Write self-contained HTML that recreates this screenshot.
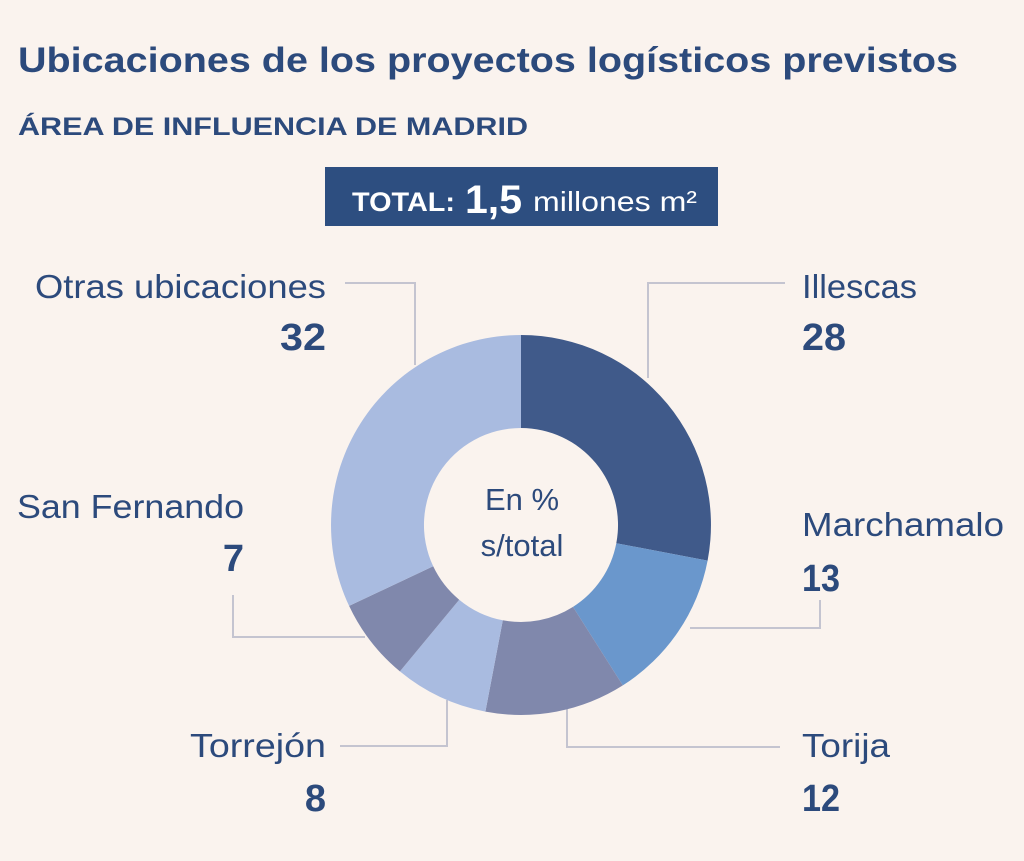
<!DOCTYPE html>
<html><head><meta charset="utf-8"><style>
body{margin:0;background:#faf3ee;}
svg{display:block;font-family:"Liberation Sans",sans-serif;}
</style></head><body>
<svg width="1024" height="861" viewBox="0 0 1024 861">
<rect width="1024" height="861" fill="#faf3ee"/>
<text x="18" y="72" font-size="35" font-weight="bold" fill="#2c4a7c" textLength="940" lengthAdjust="spacingAndGlyphs">Ubicaciones de los proyectos logísticos previstos</text>
<text x="18" y="135" font-size="25" font-weight="bold" fill="#2c4a7c" textLength="510" lengthAdjust="spacingAndGlyphs">ÁREA DE INFLUENCIA DE MADRID</text>
<rect x="325" y="167" width="393" height="59" fill="#2d4e80"/>
<text x="352" y="211" font-size="27" font-weight="bold" fill="#fff" textLength="103" lengthAdjust="spacingAndGlyphs">TOTAL:</text>
<text x="465" y="213" font-size="40" font-weight="bold" fill="#fff" textLength="57" lengthAdjust="spacingAndGlyphs">1,5</text>
<text x="533" y="211" font-size="28" fill="#fff" textLength="164" lengthAdjust="spacingAndGlyphs">millones m²</text>
<g stroke="#c4c4d0" stroke-width="2" fill="none">
<polyline points="345,283 415,283 415,365"/>
<polyline points="648,378 648,283 785,283"/>
<polyline points="690,628 820,628 820,600"/>
<polyline points="567,700 567,747 780,747"/>
<polyline points="447,700 447,746 340,746"/>
<polyline points="233,595 233,637 365,637"/>
</g>
<path d="M521,335 A190,190 0 0 1 707.6,560.6 L616.3,543.2 A97,97 0 0 0 521,428Z" fill="#405a8a"/>
<path d="M707.6,560.6 A190,190 0 0 1 622.8,685.4 L573,606.9 A97,97 0 0 0 616.3,543.2Z" fill="#6a97cc"/>
<path d="M622.8,685.4 A190,190 0 0 1 485.4,711.6 L502.8,620.3 A97,97 0 0 0 573,606.9Z" fill="#8088ac"/>
<path d="M485.4,711.6 A190,190 0 0 1 399.9,671.4 L459.2,599.7 A97,97 0 0 0 502.8,620.3Z" fill="#a9bbe0"/>
<path d="M399.9,671.4 A190,190 0 0 1 349.1,605.9 L433.2,566.3 A97,97 0 0 0 459.2,599.7Z" fill="#8088ac"/>
<path d="M349.1,605.9 A190,190 0 0 1 521,335 L521,428 A97,97 0 0 0 433.2,566.3Z" fill="#a9bbe0"/>
<g font-size="31" fill="#2c4a7c" text-anchor="middle">
<text x="522" y="510">En %</text>
<text x="522" y="556">s/total</text>
</g>
<g font-size="33" fill="#2c4a7c" lengthAdjust="spacingAndGlyphs">
<text x="35" y="298" textLength="291" lengthAdjust="spacingAndGlyphs">Otras ubicaciones</text>
<text x="280" y="350" font-weight="bold" font-size="38" textLength="46" lengthAdjust="spacingAndGlyphs">32</text>
<text x="802" y="298" textLength="115" lengthAdjust="spacingAndGlyphs">Illescas</text>
<text x="802" y="350" font-weight="bold" font-size="38" textLength="44" lengthAdjust="spacingAndGlyphs">28</text>
<text x="802" y="536" textLength="202" lengthAdjust="spacingAndGlyphs">Marchamalo</text>
<text x="802" y="591" font-weight="bold" font-size="38" textLength="38" lengthAdjust="spacingAndGlyphs">13</text>
<text x="802" y="757" textLength="88" lengthAdjust="spacingAndGlyphs">Torija</text>
<text x="802" y="811" font-weight="bold" font-size="38" textLength="38" lengthAdjust="spacingAndGlyphs">12</text>
<text x="190" y="757" textLength="136" lengthAdjust="spacingAndGlyphs">Torrejón</text>
<text x="326" y="811" text-anchor="end" font-weight="bold" font-size="38">8</text>
<text x="17" y="518" textLength="227" lengthAdjust="spacingAndGlyphs">San Fernando</text>
<text x="244" y="571" text-anchor="end" font-weight="bold" font-size="38">7</text>
</g>
</svg>
</body></html>
